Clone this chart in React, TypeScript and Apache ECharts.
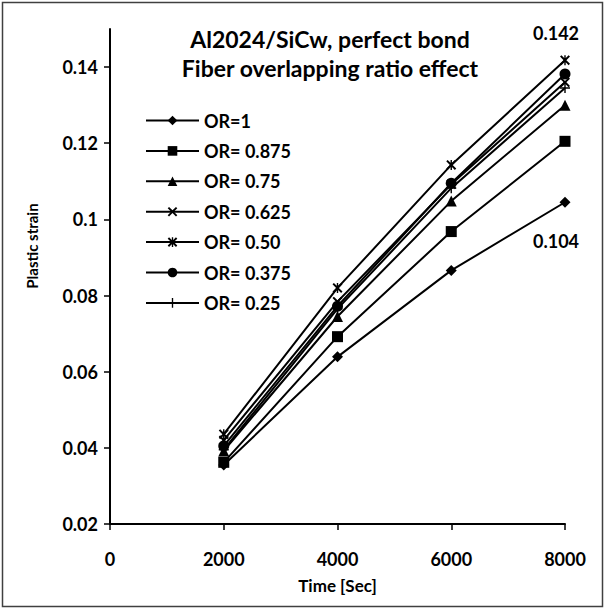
import React, { useEffect, useRef } from "react";
import * as echarts from "echarts";

const xValues = [2000, 4000, 6000, 8000];
const seriesNames = ["OR=1", "OR= 0.875", "OR= 0.75", "OR= 0.625", "OR= 0.50", "OR= 0.375", "OR= 0.25"];
const or1 = [0.0355, 0.0639, 0.0866, 0.1045];
const or0875 = [0.0362, 0.0692, 0.0968, 0.1205];
const or075 = [0.0392, 0.0745, 0.1048, 0.13];
const or0625 = [0.042, 0.0784, 0.1092, 0.136];
const or050 = [0.0436, 0.082, 0.1143, 0.1418];
const or0375 = [0.0405, 0.0772, 0.1095, 0.1382];
const or025 = [0.0395, 0.0765, 0.1082, 0.1345];
const yTicks = [0.02, 0.04, 0.06, 0.08, 0.1, 0.12, 0.14];
const titleText = "Al2024/SiCw, perfect bond\nFiber overlapping ratio effect";
const yName = "Plastic strain";
const noteTop = "0.142";
const noteBottom = "0.104";

const X_PATH = "path://M0 1.4L1.4 0L5 3.6L8.6 0L10 1.4L6.4 5L10 8.6L8.6 10L5 6.4L1.4 10L0 8.6L3.6 5Z";
const PLUS_PATH = "path://M4.3 0H5.7V4.3H10V5.7H5.7V10H4.3V5.7H0V4.3H4.3Z";
const STAR_PATH = "path://M0 1.4L1.4 0L5 3.6L8.6 0L10 1.4L6.4 5L10 8.6L8.6 10L5 6.4L1.4 10L0 8.6L3.6 5Z M4.3 0H5.7V10H4.3Z";

const allValues = [or1, or0875, or075, or0625, or050, or0375, or025];
const symbols = ["diamond", "rect", "triangle", X_PATH, STAR_PATH, "circle", PLUS_PATH];
const symbolSizes = [11, 11, 11, 10, 10, 11, 10];

const FONT = "Lato";

export default function App() {
  const ref = useRef<HTMLDivElement>(null);
  useEffect(() => {
    document.body.style.margin = "0";
    const chart = echarts.init(ref.current!, null, { renderer: "svg" });
    const series = seriesNames.map((name, i) => ({
      name,
      type: "line",
      data: xValues.map((x, j) => [x, allValues[i][j]]),
      symbol: symbols[i],
      symbolSize: symbolSizes[i],
      showAllSymbol: true,
      lineStyle: { color: "#000", width: 2 },
      itemStyle: { color: "#000", borderWidth: 0 },
      emphasis: { disabled: true },
      clip: false,
    }));
    chart.setOption({
      animation: false,
      backgroundColor: "#fff",
      title: {
        text: titleText,
        left: 330,
        top: 24,
        padding: 0,
        textAlign: "center",
        textStyle: { fontFamily: FONT, fontWeight: "bold", fontSize: 23, lineHeight: 29, color: "#000" },
      },
      legend: {
        orient: "vertical",
        left: 145,
        top: 110.5,
        padding: 0,
        itemWidth: 53,
        itemHeight: 12,
        itemGap: 10.4,
        data: seriesNames,
        textStyle: { fontFamily: FONT, fontWeight: "bold", fontSize: 18, color: "#000", lineHeight: 20 },
      },
      grid: { left: 110, top: 29, width: 455, height: 495, containLabel: false },
      xAxis: {
        type: "value",
        min: 0,
        max: 8000,
        interval: 2000,
        name: "Time [Sec]",
        nameLocation: "middle",
        nameGap: 53,
        nameTextStyle: { fontFamily: FONT, fontWeight: "bold", fontSize: 17, color: "#000" },
        axisLine: { lineStyle: { color: "#000", width: 2 } },
        axisTick: { show: true, length: 6, lineStyle: { color: "#000", width: 1.5 } },
        axisLabel: {
          margin: 26,
          fontFamily: FONT,
          fontWeight: "bold",
          fontSize: 18,
          color: "#000",
          formatter: (v: number) => String(v),
        },
        splitLine: { show: false },
      },
      yAxis: {
        type: "value",
        min: 0.02,
        max: 0.15,
        interval: 0.02,
        axisLine: { show: true, lineStyle: { color: "#000", width: 2 } },
        axisTick: { show: true, length: 6, customValues: yTicks, lineStyle: { color: "#000", width: 1.5 } },
        axisLabel: {
          margin: 12,
          customValues: yTicks,
          fontFamily: FONT,
          fontWeight: "bold",
          fontSize: 18,
          color: "#000",
          formatter: (v: number) => String(Math.round(v * 100) / 100),
        },
        splitLine: { show: false },
      },
      graphic: [
        {
          type: "rect",
          shape: { x: 2.5, y: 2.5, width: 600, height: 604 },
          style: { fill: "none", stroke: "#404040", lineWidth: 1.5 },
          silent: true,
        },
        {
          type: "text",
          x: 32,
          y: 246,
          rotation: Math.PI / 2,
          style: { text: yName, fontFamily: FONT, fontWeight: "bold", fontSize: 15, fill: "#000", align: "center", verticalAlign: "middle" },
        },
        {
          type: "text",
          x: 556,
          y: 33,
          style: { text: noteTop, fontFamily: FONT, fontWeight: "bold", fontSize: 18, fill: "#000", align: "center", verticalAlign: "middle" },
        },
        {
          type: "text",
          x: 556,
          y: 241,
          style: { text: noteBottom, fontFamily: FONT, fontWeight: "bold", fontSize: 18, fill: "#000", align: "center", verticalAlign: "middle" },
        },
      ],
      series,
    });
    return () => chart.dispose();
  }, []);
  return <div ref={ref} style={{ width: 606, height: 610 }} />;
}
